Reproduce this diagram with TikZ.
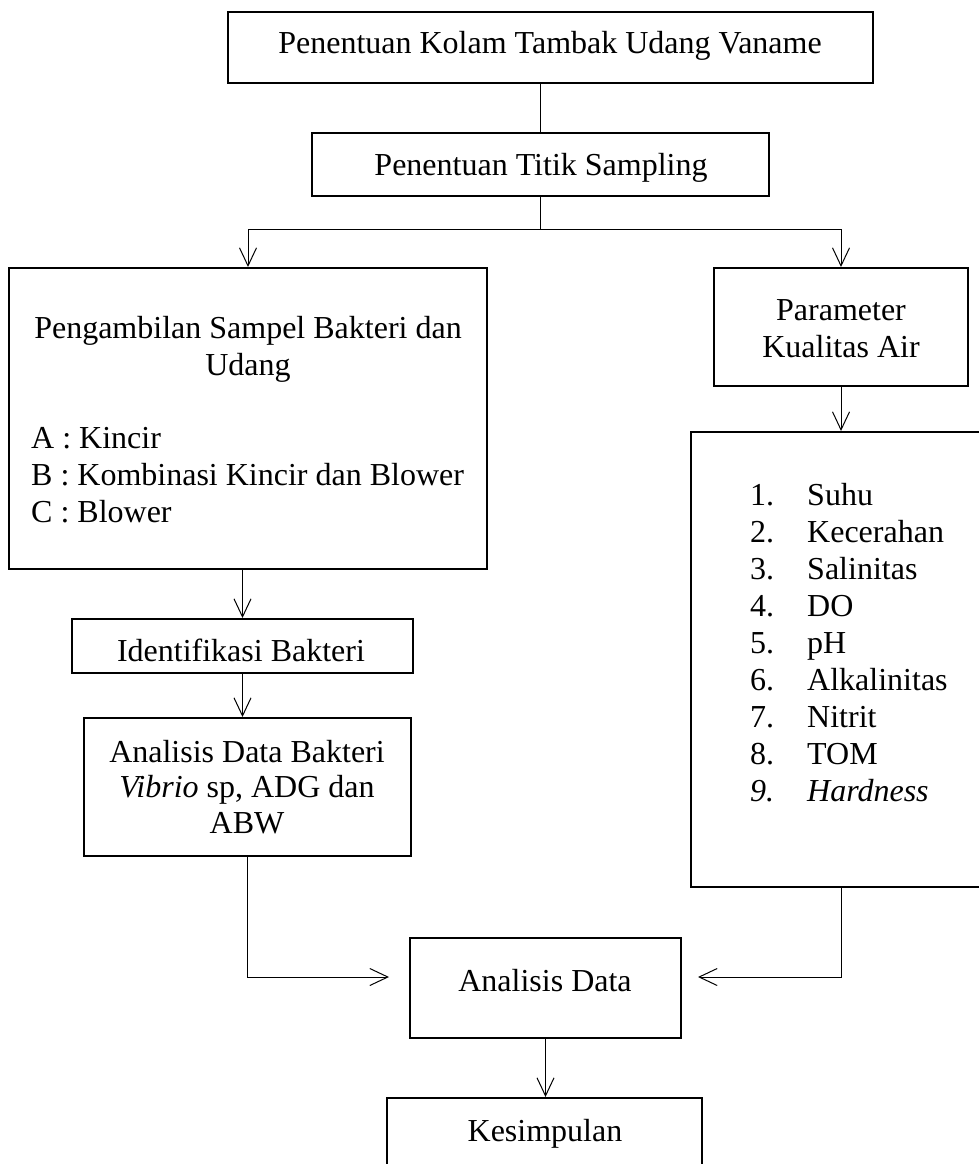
\documentclass[tikz,border=0pt]{standalone}
\usepackage{fontspec}
\setmainfont{Liberation Serif}
\usetikzlibrary{arrows.meta}
\begin{document}
\begin{tikzpicture}[x=1pt,y=-1pt,
  box/.style={draw,line width=2pt,inner sep=0pt},
  txt/.style={anchor=base,inner sep=0pt,font=\fontsize{32}{37}\selectfont},
  ltxt/.style={txt,anchor=base west},
  conn/.style={line width=1pt},
  arr/.style={line width=1pt,-{Straight Barb[length=18pt,width=17pt,line width=1pt]}}]
\clip (0,0) rectangle (979,1164);
\fill[white] (0,0) rectangle (979,1164);
% boxes
\node[box,minimum width=645pt,minimum height=71pt] (b1) at (550.5,47.5) {};
\node[box,minimum width=457pt,minimum height=63pt] (b2) at (540.5,164.5) {};
\node[box,minimum width=478pt,minimum height=301pt] (bL) at (248,418.5) {};
\node[box,minimum width=341pt,minimum height=54pt] (bI) at (242.5,646) {};
\node[box,minimum width=327pt,minimum height=138pt] (bA) at (247.5,787) {};
\node[box,minimum width=254pt,minimum height=118pt] (bP) at (841,327) {};
\node[box,minimum width=309pt,minimum height=455pt] (bList) at (845.5,659.5) {};
\node[box,minimum width=271pt,minimum height=100pt] (bAD) at (545.5,988) {};
\node[box,minimum width=315pt,minimum height=82pt] (bK) at (544.5,1139) {};
% texts
\node[txt] (t1) at (550,53) {Penentuan Kolam Tambak Udang Vaname};
\node[txt] (t2) at (541,175) {Penentuan Titik Sampling};
\node[txt] (tL1) at (248,338) {Pengambilan Sampel Bakteri dan};
\node[txt] (tL2) at (248,375) {Udang};
\node[ltxt] (tLA) at (31,448) {A : Kincir};
\node[ltxt] (tLB) at (31,485) {B : Kombinasi Kincir dan Blower};
\node[ltxt] (tLC) at (31,522) {C : Blower};
\node[txt] (tI) at (241,661) {Identifikasi Bakteri};
\node[txt] (tA1) at (247,762) {Analisis Data Bakteri};
\node[txt] (tA2) at (247,797) {\textit{Vibrio} sp, ADG dan};
\node[txt] (tA3) at (247,833) {ABW};
\node[txt] (tP1) at (841,320) {Parameter};
\node[txt] (tP2) at (841,357) {Kualitas Air};
\foreach \n/\t [count=\k from 0] in {1./Suhu,2./Kecerahan,3./Salinitas,4./DO,5./pH,6./Alkalinitas,7./Nitrit,8./TOM,\textit{9.}/\textit{Hardness}}{
  \node[ltxt] (n\k) at (750,505+37*\k) {\n};
  \node[ltxt] (i\k) at (807,505+37*\k) {\t};
}
\node[txt] (tAD) at (545,991) {Analisis Data};
\node[txt] (tK) at (545,1141) {Kesimpulan};
% connectors
\coordinate (split) at (540.5,229);
\coordinate (inL) at (389,977);
\coordinate (inR) at (698,977);
\draw[conn] (b2.north |- b1.south) -- (b2.north);
\draw[conn] (b2.south) -- (split);
\draw[arr] (split) -| (bL.north);
\draw[arr] (split) -| (bP.north);
\draw[arr] (bL.south -| bI.north) -- (bI.north);
\draw[arr] (bI.south) -- (bI.south |- bA.north);
\draw[arr] (bP.south) -- (bP.south |- bList.north);
\draw[arr] (bA.south) |- (inL);
\draw[arr] (bList.south -| bP.south) |- (inR);
\draw[arr] (bAD.south) -- (bAD.south |- bK.north);
\end{tikzpicture}
\end{document}
